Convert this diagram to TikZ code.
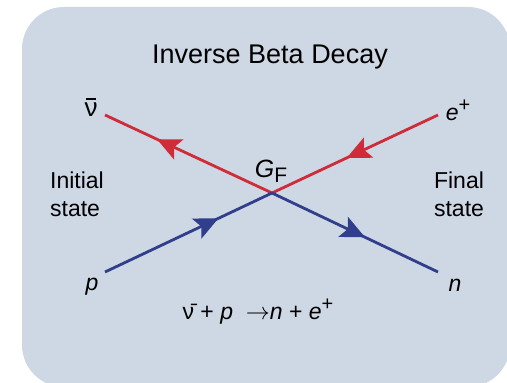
\documentclass[tikz,border=0pt]{standalone}
\usepackage{fontspec}
\setmainfont{Liberation Sans}
\usetikzlibrary{positioning,arrows.meta,decorations.markings}

\definecolor{panel}{RGB}{206,215,228}
\definecolor{lepton}{RGB}{206,44,56}
\definecolor{hadron}{RGB}{48,62,140}

% antineutrino with a centred bar, raised plus sign
\newcommand{\barnu}{\leavevmode\hbox{\setbox0\hbox{ν}\rlap{\hbox to \wd0{\hss\raisebox{1.2\ht0}{\rule{0.7\wd0}{0.06em}}\hss}}\box0}}
\newcommand{\plusup}{\raisebox{0.75ex}{\fontsize{10}{10}\selectfont+}}

\tikzset{
  fermion/.style={line width=1.4pt,postaction={decorate},
    decoration={markings,mark=at position #1 with {\arrow{Stealth[length=12pt,width=11pt,inset=2.5pt]}}}},
  fermion/.default=0.6,
  lbl/.style={font=\fontsize{11.5}{14}\selectfont,inner sep=0pt},
  ttl/.style={font=\fontsize{13.5}{16}\selectfont,inner sep=0pt}
}

\begin{document}
\begin{tikzpicture}[x=0.5pt,y=0.5pt]
\useasboundingbox (0,0) rectangle (507,383);
\clip (0,0) rectangle (507,383);
% rounded panel, cut off at right and bottom
\fill[panel,rounded corners=21pt] (22,-4) rectangle (510,376);
% vertex and the four legs
\coordinate (vtx) at (272,190);
\coordinate (nubar) at (105,268);
\coordinate (eplus) at (438,268);
\coordinate (prot) at (105,111);
\coordinate (neut) at (438,111);
\draw[fermion=0.69,lepton] (vtx) -- (nubar);
\draw[fermion=0.55,lepton] (eplus) -- (vtx);
\draw[fermion=0.68,hadron] (prot) -- (vtx);
\draw[fermion=0.56,hadron] (vtx) -- (neut);
% labels
\node[ttl] (title) at (270,326) {Inverse Beta Decay};
\node[lbl,font=\fontsize{13}{14}\selectfont] (nubarlbl) at (91,276) {\barnu};
\node[lbl] (eplbl) at (458,273) {\textit{e}\plusup};
\node[lbl,align=left] (initial) at (77,189) {Initial\\state};
\node[lbl,align=left] (final) at (459,189) {Final\\state};
\node[lbl,font=\fontsize{12.5}{14}\selectfont] (gf) at (271,212) {\textit{G}\raisebox{-0.4ex}{\fontsize{10.5}{10}\selectfont F}};
\node[lbl] (plbl) at (92,96) {\textit{p}};
\node[lbl] (nlbl) at (455,98) {\textit{n}};
\node[lbl] (reaction) at (258,71) {ν̄ + \textit{p} \ $\rightarrow$\textit{n} + \textit{e}\plusup};
\end{tikzpicture}
\end{document}
